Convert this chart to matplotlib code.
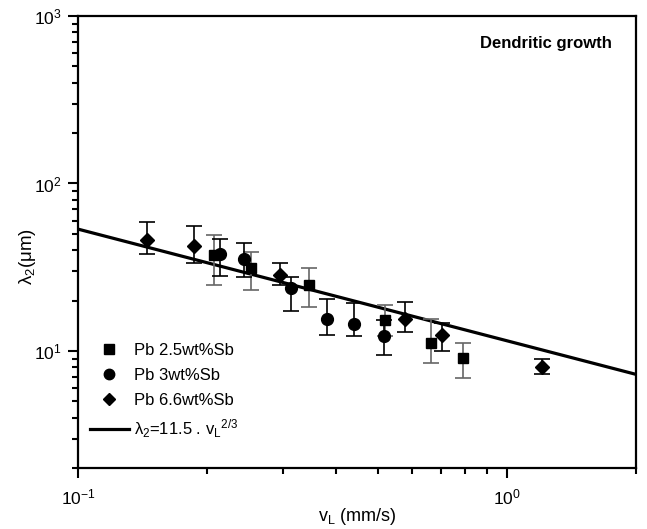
import numpy as np
import matplotlib.pyplot as plt
from matplotlib.lines import Line2D
from matplotlib.ticker import LogLocator, LogFormatterMathtext, NullFormatter

plt.rcParams['font.family'] = ['Liberation Sans', 'DejaVu Sans']
plt.rcParams['mathtext.fontset'] = 'custom'
plt.rcParams['mathtext.rm'] = 'Liberation Sans'
plt.rcParams['mathtext.it'] = 'Liberation Sans'
plt.rcParams['mathtext.bf'] = 'Liberation Sans:bold'

# Pb 2.5wt%Sb (carres)
sq_v = [0.207, 0.253, 0.346, 0.520, 0.664, 0.790]
sq_l = [37.6, 31.3, 24.6, 15.2, 11.1, 9.04]
sq_lo = [24.8, 23.0, 18.4, 12.2, 8.5, 6.9]
sq_hi = [49.5, 38.8, 31.3, 18.9, 15.5, 11.1]

# Pb 3wt%Sb (cercles)
ci_v = [0.214, 0.244, 0.314, 0.380, 0.440, 0.518]
ci_l = [37.9, 35.4, 23.9, 15.5, 14.5, 12.2]
ci_lo = [28.1, 27.6, 17.4, 12.5, 12.3, 9.45]
ci_hi = [46.7, 44.2, 27.6, 20.4, 19.3, 15.3]

# Pb 6.6wt%Sb (losanges)
di_v = [0.145, 0.186, 0.295, 0.577, 0.707, 1.209]
di_l = [46.2, 42.1, 28.5, 15.5, 12.4, 7.98]
di_lo = [37.9, 33.5, 24.8, 13.0, 10.0, 7.25]
di_hi = [59.0, 55.5, 33.5, 19.5, 14.6, 8.9]

# loi de puissance
coef = 11.5
expo = -2.0 / 3.0
fit_v = np.array([0.1, 2.0])

labels = ['Pb 2.5wt%Sb', 'Pb 3wt%Sb', 'Pb 6.6wt%Sb',
          r'$\lambda_2$=11.5 . v$_L$$^{2/3}$']


def yerr(y, lo, hi):
    y = np.array(y)
    return [y - np.array(lo), np.array(hi) - y]


fig = plt.figure(figsize=(6.47, 5.29), dpi=100)
ax = fig.add_axes([0.1206, 0.1153, 0.8625, 0.8545])

series = [
    (sq_v, sq_l, sq_lo, sq_hi, 's', 7.5, '#666666'),
    (ci_v, ci_l, ci_lo, ci_hi, 'o', 8.5, 'black'),
    (di_v, di_l, di_lo, di_hi, 'D', 7.5, 'black'),
]
handles = []
for (v, l, lo, hi, m, ms, ec), lab in zip(series, labels):
    ax.errorbar(v, l, yerr=yerr(l, lo, hi), fmt=m, color='black', ecolor=ec,
                elinewidth=1.2, capsize=6, capthick=1.2, ms=ms, zorder=3)
    handles.append(Line2D([], [], ls='none', marker=m, color='black', ms=ms - 1))

line, = ax.plot(fit_v, coef * fit_v ** expo, color='black', lw=2.3, zorder=2)
handles.append(Line2D([], [], color='black', lw=2.3))

ax.set_xscale('log')
ax.set_yscale('log')
ax.set_xlim(0.1, 2)
ax.set_ylim(2, 1000)

ax.xaxis.set_major_locator(LogLocator(base=10, numticks=10))
ax.yaxis.set_major_locator(LogLocator(base=10, numticks=10))
ax.xaxis.set_minor_locator(LogLocator(base=10, subs=np.arange(2, 10), numticks=20))
ax.yaxis.set_minor_locator(LogLocator(base=10, subs=np.arange(2, 10), numticks=20))
ax.xaxis.set_major_formatter(LogFormatterMathtext())
ax.yaxis.set_major_formatter(LogFormatterMathtext())
ax.xaxis.set_minor_formatter(NullFormatter())
ax.yaxis.set_minor_formatter(NullFormatter())

ax.tick_params(which='major', direction='out', length=7, width=1.5, labelsize=12.5, pad=5)
ax.tick_params(which='minor', direction='out', length=4, width=1.5)
ax.tick_params(axis='x', which='major', pad=7)
for s in ax.spines.values():
    s.set_linewidth(1.6)

ax.set_xlabel(r'v$_L$ (mm/s)', fontsize=13)
ax.set_ylabel(r'$\lambda_2$(μm)', fontsize=13.5)
ax.xaxis.set_label_coords(0.5, -0.085)
ax.yaxis.set_label_coords(-0.072, 0.467)

ax.text(0.957, 0.94, 'Dendritic growth', transform=ax.transAxes,
        ha='right', va='center', fontsize=12, fontweight='bold')

ax.legend(handles, labels, loc='lower left', bbox_to_anchor=(-0.005, 0.028),
          frameon=False, fontsize=12, handlelength=2.3, handletextpad=0.35,
          labelspacing=0.6)

plt.savefig('out.png', dpi=100)
